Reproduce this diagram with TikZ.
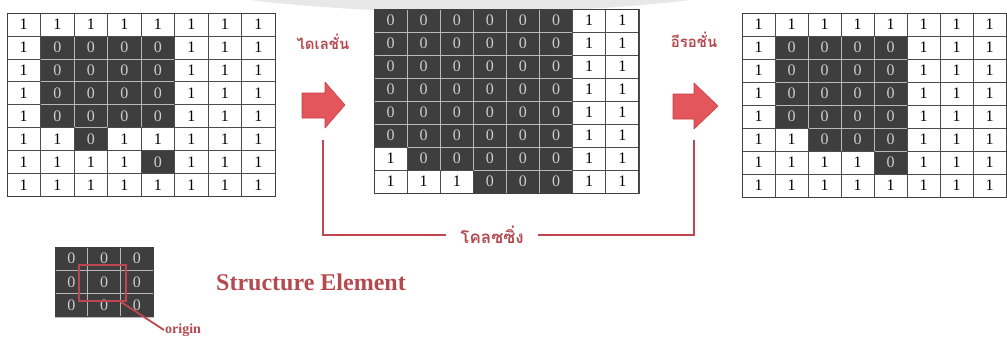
\documentclass[tikz,border=0pt]{standalone}
\usepackage{fontspec}
\setmainfont{Liberation Serif}
\newfontfamily\thaifont[Script=Thai]{Loma}
\definecolor{darkcell}{RGB}{62,62,62}
\definecolor{celltxt}{RGB}{205,205,205}
\definecolor{arrowred}{RGB}{226,86,92}
\definecolor{arrowedge}{RGB}{200,60,70}
\definecolor{connred}{RGB}{190,70,80}
\definecolor{labelred}{RGB}{180,74,80}
\tikzset{
  dcell/.style={draw=gray!55, line width=0.6pt, fill=darkcell, text=celltxt, inner sep=0pt, outer sep=0pt, font=\fontsize{16}{16}\selectfont},
  wcell/.style={draw=black!70, line width=0.6pt, fill=white, text=black, inner sep=0pt, outer sep=0pt, font=\fontsize{16}{16}\selectfont},
  gborder/.style={draw=black!75, line width=1pt},
  blockarrow/.style={fill=arrowred, draw=arrowedge, line width=0.6pt, line join=round},
  conn/.style={draw=connred, line width=1.8pt},
  thailbl/.style={text=labelred, inner sep=0pt},
}
% #1 name, #2 x0, #3 y0, #4 cell width, #5 cell height, #6 cols, #7 rows, #8 data
\newcommand\mygrid[8]{%
  \foreach \row [count=\r] in {#8} {
    \foreach \v [count=\c] in \row {
      \ifnum\v=0
        \node[dcell, minimum width=#4pt, minimum height=#5pt] (#1-\r-\c) at ({#2+(\c-0.5)*#4},{#3+(\r-0.5)*#5}) {\v};
      \fi
    }
  }
  \foreach \row [count=\r] in {#8} {
    \foreach \v [count=\c] in \row {
      \ifnum\v=1
        \node[wcell, minimum width=#4pt, minimum height=#5pt] (#1-\r-\c) at ({#2+(\c-0.5)*#4},{#3+(\r-0.5)*#5}) {\v};
      \fi
    }
  }
  \draw[gborder] (#1-1-1.north west) rectangle (#1-#7-#6.south east);
}
\begin{document}
\begin{tikzpicture}[x=1pt,y=-1pt]
\useasboundingbox (0,0) rectangle (1007,338);
\fill[white] (0,0) rectangle (1007,338);
% faint scan arc at top
\fill[gray!18] (250,0) .. controls (380,16) and (560,16) .. (690,0) -- cycle;

% grid 1: input
\mygrid{ga}{7}{13}{33.5}{22.9}{8}{8}{
 {1,1,1,1,1,1,1,1},
 {1,0,0,0,0,1,1,1},
 {1,0,0,0,0,1,1,1},
 {1,0,0,0,0,1,1,1},
 {1,0,0,0,0,1,1,1},
 {1,1,0,1,1,1,1,1},
 {1,1,1,1,0,1,1,1},
 {1,1,1,1,1,1,1,1}}
% grid 2: dilation
\mygrid{gb}{374}{9}{33.1}{23}{8}{8}{
 {0,0,0,0,0,0,1,1},
 {0,0,0,0,0,0,1,1},
 {0,0,0,0,0,0,1,1},
 {0,0,0,0,0,0,1,1},
 {0,0,0,0,0,0,1,1},
 {0,0,0,0,0,0,1,1},
 {1,0,0,0,0,0,1,1},
 {1,1,1,0,0,0,1,1}}
% grid 3: erosion
\mygrid{gc}{742}{13}{33}{23}{8}{8}{
 {1,1,1,1,1,1,1,1},
 {1,0,0,0,0,1,1,1},
 {1,0,0,0,0,1,1,1},
 {1,0,0,0,0,1,1,1},
 {1,0,0,0,0,1,1,1},
 {1,1,0,0,0,1,1,1},
 {1,1,1,1,0,1,1,1},
 {1,1,1,1,1,1,1,1}}
% structure element
\mygrid{se}{55}{247}{32.7}{23.3}{3}{3}{
 {0,0,0},
 {0,0,0},
 {0,0,0}}

% block arrows
\draw[blockarrow] (302,93) -- (325,93) -- (325,82) -- (345,105) -- (325,128) -- (325,118) -- (302,118) -- cycle;
\coordinate (arrA) at (323,105);
\draw[blockarrow] (673,94) -- (694,94) -- (694,83) -- (718,106) -- (694,129) -- (694,119) -- (673,119) -- cycle;
\coordinate (arrB) at (695,106);

% labels
\node[thailbl, anchor=base, font=\thaifont\bfseries\fontsize{15}{15}\selectfont] (dil) at (323,49) {ไดเลชั่น};
\node[thailbl, anchor=base, font=\thaifont\bfseries\fontsize{15}{15}\selectfont] (ero) at (694,47) {อีรอชั่น};

% closing connector
\coordinate (cA) at (323,140);
\coordinate (cB) at (694,140);
\node[thailbl, inner xsep=14pt, font=\thaifont\bfseries\fontsize{17}{17}\selectfont] (clo) at (492,235) {โคลซซิ่ง};
\draw[conn] (cA) |- (clo.west);
\draw[conn] (clo.east) -| (cB);

% structure element annotations
\node[draw=connred, line width=1.8pt, minimum width=47pt, minimum height=36pt, inner sep=0pt] (orbox) at (102.5,283) {};
\node[text=labelred, font=\bfseries\fontsize{14}{14}\selectfont, inner sep=1pt, anchor=west] (orig) at (164,330) {origin};
\draw[draw=connred, line width=1.8pt] ([xshift=-6pt]orbox.south east) -- (orig.west);
\node[text=labelred, font=\bfseries\fontsize{24}{24}\selectfont, inner sep=0pt] (selbl) at (311,282) {Structure Element};
\end{tikzpicture}
\end{document}
